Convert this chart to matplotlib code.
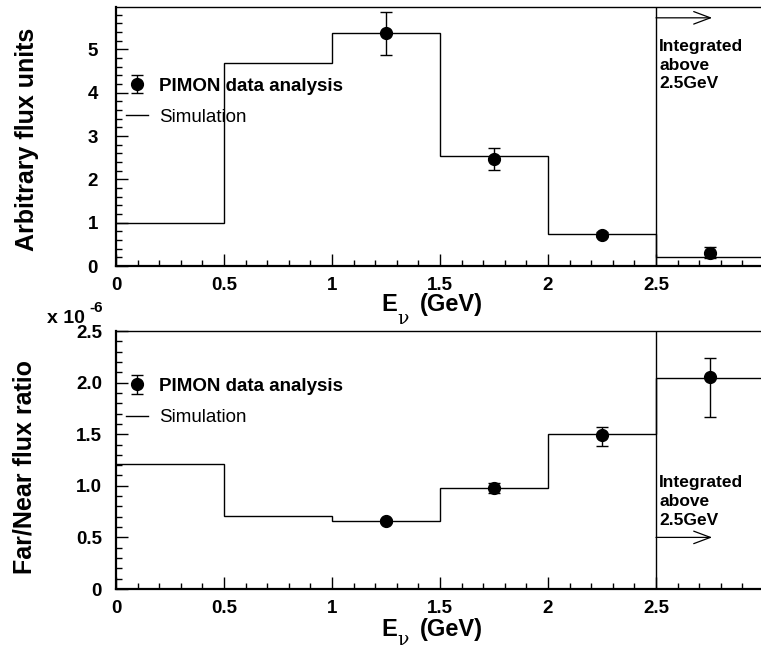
import matplotlib
matplotlib.use("Agg")
import matplotlib.pyplot as plt
from matplotlib.lines import Line2D
from matplotlib.ticker import MultipleLocator, FixedLocator, FixedFormatter

plt.rcParams['font.family'] = ['Liberation Sans', 'DejaVu Sans']

# ---------------- data ----------------
bin_edges = [0.0, 0.5, 1.0, 1.5, 2.0, 2.5, 3.0]
flux_sim = [1.00, 4.69, 5.37, 2.54, 0.74, 0.21]
data_x = [1.25, 1.75, 2.25, 2.75]
flux_data = [5.37, 2.47, 0.72, 0.31]
flux_err = [0.49, 0.25, 0.06, 0.13]

ratio_sim = [1.21, 0.706, 0.657, 0.978, 1.50, 2.04]
ratio_data = [0.66, 0.98, 1.49, 2.05]
ratio_err_lo = [0.02, 0.05, 0.10, 0.38]
ratio_err_hi = [0.02, 0.05, 0.08, 0.19]

x_ticks = [0, 0.5, 1, 1.5, 2, 2.5]
x_ticklabels = ["0", "0.5", "1", "1.5", "2", "2.5"]
top_yticks = [0, 1, 2, 3, 4, 5]
top_yticklabels = ["0", "1", "2", "3", "4", "5"]
bot_yticks = [0, 0.5, 1.0, 1.5, 2.0, 2.5]
bot_yticklabels = ["0", "0.5", "1.0", "1.5", "2.0", "2.5"]

W, H = 761, 648
fig = plt.figure(figsize=(W / 100, H / 100), dpi=100)

def px_axes(left, top, bottom):
    return fig.add_axes([left / W, 1 - bottom / H, (W - left) / W, (bottom - top) / H])

ax1 = px_axes(116, 7, 266)
ax2 = px_axes(116, 331, 589)

XMAX = (W - 116) / 216.0

def style(ax, ymax, yticks, ylabels, ymin_step, ypad):
    ax.set_xlim(0, XMAX)
    ax.set_ylim(0, ymax)
    ax.spines['right'].set_visible(False)
    ax.spines['left'].set_linewidth(1.6)
    ax.spines['bottom'].set_linewidth(1.6)
    ax.spines['top'].set_linewidth(1.0)
    ax.xaxis.set_major_locator(FixedLocator(x_ticks))
    ax.xaxis.set_major_formatter(FixedFormatter(x_ticklabels))
    ax.xaxis.set_minor_locator(MultipleLocator(0.1))
    ax.yaxis.set_major_locator(FixedLocator(yticks))
    ax.yaxis.set_major_formatter(FixedFormatter(ylabels))
    ax.yaxis.set_minor_locator(MultipleLocator(ymin_step))
    ax.tick_params(which='both', direction='in', top=False, right=False, width=1.0, color='black')
    ax.tick_params(which='major', length=8.5)
    ax.tick_params(which='minor', length=4.3)
    ax.tick_params(axis='x', which='major', pad=8, labelsize=13.5)
    ax.tick_params(axis='y', which='major', pad=ypad, labelsize=13.5)
    for lab in ax.get_xticklabels() + ax.get_yticklabels():
        lab.set_fontweight('bold')

def draw(ax, sim, data, err, legend_y):
    ax.stairs(sim, bin_edges, baseline=None, color='black', lw=1.0)
    ax.axvline(2.5, color='black', lw=1.0)
    eb = ax.errorbar(data_x, data, yerr=err, fmt='o', color='black', ms=8.5,
                     elinewidth=1.0, capsize=4.5, capthick=1.0)
    sim_handle = Line2D([], [], color='black', lw=1.0)
    leg = ax.legend([eb, sim_handle], ["PIMON data analysis", "Simulation"],
                    loc='center left', bbox_to_anchor=(0.0155, legend_y),
                    frameon=False, fontsize=13.5, handlelength=1.2,
                    handletextpad=0.55, borderpad=0, borderaxespad=0,
                    labelspacing=0.75)
    leg.get_texts()[0].set_fontweight('bold')

style(ax1, 5.98, top_yticks, top_yticklabels, 0.2, 13)
style(ax2, 2.5, bot_yticks, bot_yticklabels, 0.1, 10)

draw(ax1, flux_sim, flux_data, flux_err, 0.635)
draw(ax2, ratio_sim, ratio_data, [ratio_err_lo, ratio_err_hi], 0.725)

arrowprops = dict(arrowstyle='->,head_length=1.2,head_width=0.45', color='black', lw=0.9,
                  shrinkA=0, shrinkB=0)
ax1.annotate('', xy=(2.76, 5.73), xytext=(2.5, 5.73), arrowprops=arrowprops)
ax2.annotate('', xy=(2.76, 0.50), xytext=(2.5, 0.50), arrowprops=arrowprops)

ax1.text(2.515, 4.64, "Integrated\nabove\n2.5GeV", fontsize=12.5, fontweight='bold',
         ha='left', va='center', linespacing=1.3)
ax2.text(2.515, 0.848, "Integrated\nabove\n2.5GeV", fontsize=12.5, fontweight='bold',
         ha='left', va='center', linespacing=1.3)

# axis titles
fig.text(27 / W, 1 - 139 / H, "Arbitrary flux units", rotation=90, ha='center', va='center',
         fontsize=18, fontweight='bold')
fig.text(25 / W, 1 - 467 / H, "Far/Near flux ratio", rotation=90, ha='center', va='center',
         fontsize=18, fontweight='bold')
for base, nu_base in ((311, 324), (636, 645)):
    fig.text(381 / W, 1 - base / H, "E", ha='left', va='baseline', fontsize=17,
             fontweight='bold')
    fig.text(397 / W, 1 - nu_base / H, "ν", ha='left', va='baseline', fontsize=13.5,
             family=['DejaVu Serif', 'DejaVu Sans'])
    fig.text(420 / W, 1 - base / H, "(GeV)", ha='left', va='baseline', fontsize=17,
             fontweight='bold')

fig.text(47 / W, 1 - 323 / H, "x 10", ha='left', va='baseline', fontsize=14, fontweight='bold')
fig.text(89 / W, 1 - 312 / H, "-6", ha='left', va='baseline', fontsize=11, fontweight='bold')

fig.savefig("out.png", dpi=100)
